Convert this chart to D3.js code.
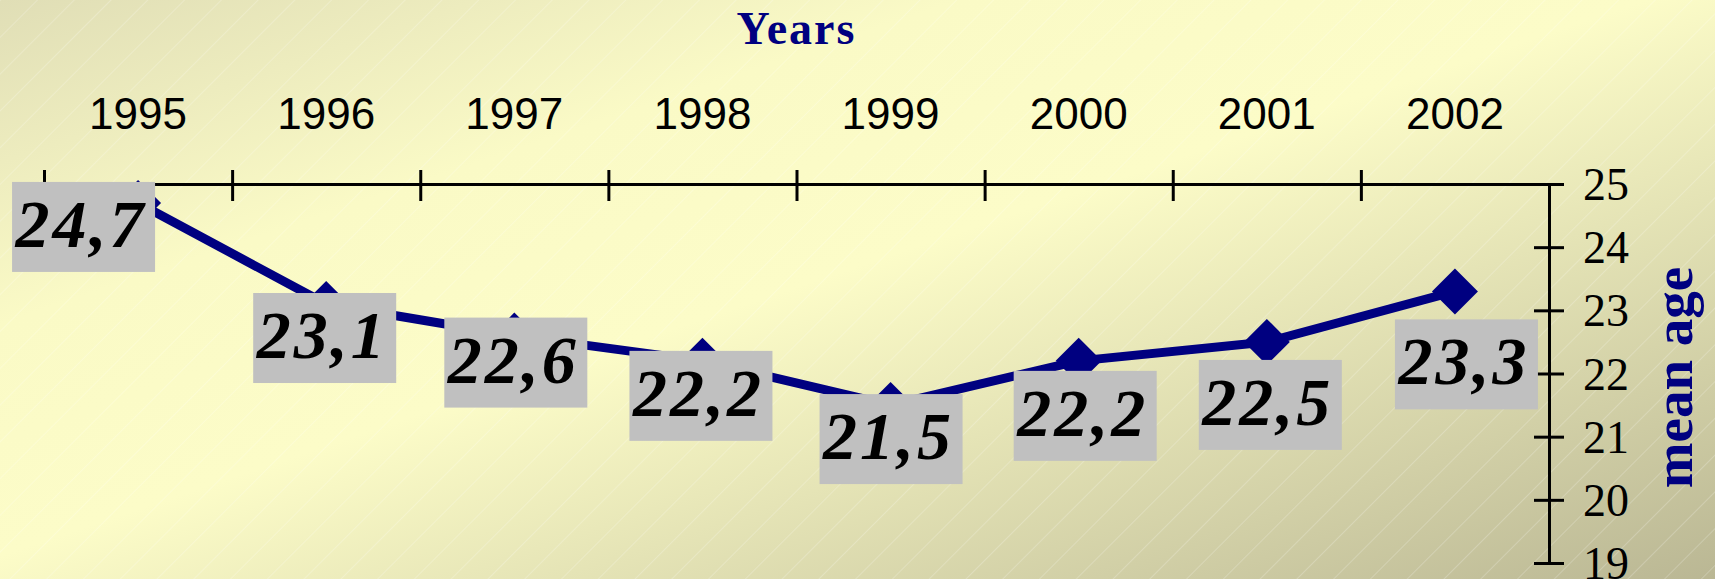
<!DOCTYPE html>
<html>
<head>
<meta charset="utf-8">
<title>mean age</title>
<script src="https://d3js.org/d3.v7.min.js"></script>
<style>
  html, body { margin: 0; padding: 0; }
  body { width: 1715px; height: 579px; overflow: hidden; }
  .axis path, .axis line { stroke: #000; stroke-width: 3px; }
  .xlab { font-family: "Liberation Sans", Arial, sans-serif; font-size: 44px; fill: #000; }
  .ylab { font-family: "Liberation Serif", "Times New Roman", serif; font-size: 46px; fill: #000; }
  .ttl { font-family: "Liberation Serif", "Times New Roman", serif; font-weight: bold; fill: #000080; }
  .val { font-family: "Liberation Serif", "Times New Roman", serif; font-weight: bold; font-style: italic; font-size: 68px; letter-spacing: 3px; fill: #000; }
</style>
</head>
<body>
<div id="chart"></div>
<script>
// data
var years = ["1995", "1996", "1997", "1998", "1999", "2000", "2001", "2002"];
var meanAge = [24.7, 23.1, 22.6, 22.2, 21.5, 22.2, 22.5, 23.3];
var labels = ["24,7", "23,1", "22,6", "22,2", "21,5", "22,2", "22,5", "23,3"];
var yTicks = [19, 20, 21, 22, 23, 24, 25];

// where each label box sits relative to its point (hand placed in the original)
var labelShift = [[-54, 24], [-1, 34], [2, 27], [-1, 35], [1, 34], [7, 55], [4, 63], [12, 73]];

var W = 1715, H = 579;
var pLeft = 44, pRight = 1549, pTop = 184, pBottom = 563;

var svg = d3.select("#chart").append("svg")
    .attr("width", W)
    .attr("height", H);

var defs = svg.append("defs");
var grad = defs.append("linearGradient")
    .attr("id", "bg")
    .attr("x1", 0).attr("y1", 0).attr("x2", 1).attr("y2", 1);
grad.append("stop").attr("offset", 0).attr("stop-color", "#e0deb6");
grad.append("stop").attr("offset", 0.28).attr("stop-color", "#fafac6");
grad.append("stop").attr("offset", 0.48).attr("stop-color", "#fcfcc8");
grad.append("stop").attr("offset", 1).attr("stop-color", "#bab794");

var pat = defs.append("pattern")
    .attr("id", "hatch")
    .attr("width", 26).attr("height", 26)
    .attr("patternUnits", "userSpaceOnUse")
    .attr("patternTransform", "rotate(-45)");
pat.append("line")
    .attr("x1", 0).attr("y1", 0).attr("x2", 26).attr("y2", 0)
    .attr("stroke", "#fff").attr("stroke-width", 1.2).attr("stroke-opacity", 0.35);

svg.append("rect").attr("width", W).attr("height", H).attr("fill", "url(#bg)");
svg.append("rect").attr("width", W).attr("height", H).attr("fill", "url(#hatch)");

var x = d3.scaleBand().domain(years).range([pLeft, pRight]);
var y = d3.scaleLinear().domain([19, 25]).range([pBottom, pTop]);
var cx = function(d) { return x(d) + x.bandwidth() / 2; };

// category axis at the top, ticks between categories
var xb = d3.scaleLinear().domain([0, years.length]).range([pLeft, pRight]);
var gx = svg.append("g")
    .attr("class", "axis")
    .attr("transform", "translate(0," + pTop + ")")
    .call(d3.axisTop(xb).tickValues(d3.range(years.length)).tickSizeOuter(0).tickFormat(""));
gx.selectAll(".tick line").attr("y1", 17).attr("y2", -14);

svg.selectAll(".xlab")
    .data(years)
    .enter().append("text")
    .attr("class", "xlab")
    .attr("x", cx)
    .attr("y", 129)
    .attr("text-anchor", "middle")
    .text(function(d) { return d; });

// value axis on the right
var gy = svg.append("g")
    .attr("class", "axis")
    .attr("transform", "translate(" + pRight + ",0)")
    .call(d3.axisRight(y).tickValues(yTicks).tickSizeOuter(0).tickFormat(d3.format("d")));
gy.selectAll(".tick line").attr("x1", -15).attr("x2", 15);
gy.selectAll(".tick text")
    .attr("class", "ylab")
    .attr("x", 34)
    .attr("dy", "0.34em");

svg.append("text")
    .attr("class", "ttl")
    .attr("x", (pLeft + pRight) / 2)
    .attr("y", 44)
    .attr("text-anchor", "middle")
    .style("font-size", "46px")
    .style("letter-spacing", "2px")
    .text("Years");

svg.append("text")
    .attr("class", "ttl")
    .attr("transform", "translate(1692," + ((pTop + pBottom) / 2 + 4) + ") rotate(-90)")
    .attr("text-anchor", "middle")
    .style("font-size", "55px")
    .text("mean age");

// series
var line = d3.line()
    .x(function(d, i) { return cx(years[i]); })
    .y(function(d) { return y(d); });

svg.append("path")
    .datum(meanAge)
    .attr("d", line)
    .attr("fill", "none")
    .attr("stroke", "#000080")
    .attr("stroke-width", 9)
    .attr("stroke-linejoin", "round");

svg.selectAll(".mk")
    .data(meanAge)
    .enter().append("path")
    .attr("class", "mk")
    .attr("d", "M0,-23L23,0L0,23L-23,0Z")
    .attr("fill", "#000080")
    .attr("transform", function(d, i) { return "translate(" + cx(years[i]) + "," + y(d) + ")"; });

// data labels
var lab = svg.selectAll(".lb")
    .data(meanAge)
    .enter().append("g")
    .attr("class", "lb")
    .attr("transform", function(d, i) {
      return "translate(" + (cx(years[i]) + labelShift[i][0]) + "," + (y(d) + labelShift[i][1]) + ")";
    });
lab.append("rect")
    .attr("x", -72).attr("y", -45)
    .attr("width", 143).attr("height", 90)
    .attr("fill", "#c0c0c0");
lab.append("text")
    .attr("class", "val")
    .attr("text-anchor", "middle")
    .attr("x", -3)
    .attr("y", 20)
    .text(function(d, i) { return labels[i]; });
</script>
</body>
</html>
